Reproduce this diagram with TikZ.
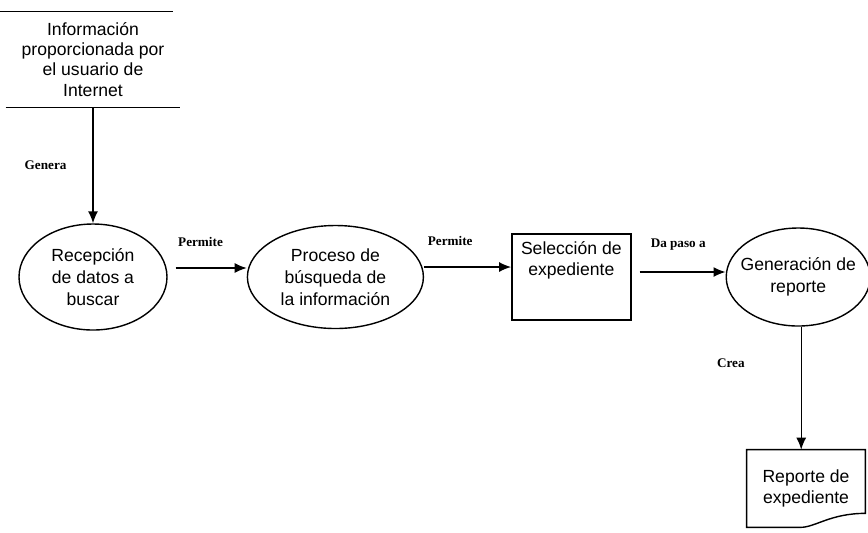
\documentclass[tikz,border=0pt]{standalone}
\usepackage{fontspec}
\setmainfont{Liberation Sans}
\newfontfamily\lblfont{Liberation Serif}
\usepackage{tikz}
\usetikzlibrary{shapes.geometric}
\usetikzlibrary{arrows.meta}
\usetikzlibrary{positioning}

\begin{document}
\begin{tikzpicture}
    \tikzset{ prc/.style={draw=black, ellipse, line width=0.8pt, inner xsep=-0.25cm, inner ysep=-0.1cm, text=black, font=\fontsize{10}{12.5}\selectfont} }
    \tikzset{ sel/.style={draw=black, rectangle, line width=0.8pt, text=black, font=\fontsize{10}{12.5}\selectfont} }
    \tikzset{ sto/.style={rectangle, text=black, font=\fontsize{10}{11.5}\selectfont, minimum width=3.48cm, minimum height=1.9cm} }
    \tikzset{ lbl/.style={text=black, font=\lblfont\bfseries\fontsize{7.5}{9}\selectfont} }
    \useasboundingbox (0,0) rectangle (17.36,-10.64);

    \node[sto,                     align=center] (s1)  at (1.86, -1.19)  {Información\\proporcionada por\\el usuario de\\Internet};
    \node[prc, minimum width=2.96cm, minimum height=2.12cm, align=center] (p1) at (1.86, -5.54) {Recepción\\de datos a\\buscar};
    \node[prc, minimum width=3.52cm, minimum height=2.06cm, right=1.58cm of p1, align=center] (p2) {Proceso de\\búsqueda de\\la información};
    \node[sel, minimum width=2.38cm, minimum height=1.72cm, right=1.74cm of p2, align=center] (p3) {Selección de\\expediente\\[0.3cm]};
    \node[prc, minimum width=2.88cm, minimum height=1.96cm, right=1.88cm of p3, align=center] (p4) {Generación de\\reporte};
    \node[sto, minimum width=2.36cm, minimum height=1.54cm, align=center] (d1) at (16.12, -9.77) {Reporte de\\expediente};

    % data store lines and report outline
    \draw[line width=0.8pt] ([xshift=-0.14cm]s1.north west) -- ([xshift=-0.14cm]s1.north east);
    \draw[line width=0.8pt] (s1.south west) -- (s1.south east);
    \draw[line width=0.8pt] (d1.north west) -- (d1.north east) -- ([yshift=0.28cm]d1.south east)
        .. controls ([xshift=-0.7cm, yshift=0.28cm]d1.south east) and ([xshift=-1.0cm]d1.south east) .. ([xshift=-1.3cm]d1.south east)
        -- (d1.south west) -- cycle;

    \draw[->,>={Latex[length=2.4mm,width=2mm]}, line width=0.8pt] (s1.south) -- (p1.north) node [midway, left=0.4cm, lbl] {Genera};
    \draw[->,>={Latex[length=2.4mm,width=2mm]}, line width=0.8pt] ([xshift=0.16cm, yshift=0.18cm]p1.east) -- ([yshift=0.18cm]p2.west) node [pos=0.35, above=0.3cm, lbl] {Permite};
    \draw[->,>={Latex[length=2.4mm,width=2mm]}, line width=0.8pt] ([yshift=0.2cm]p2.east) -- ([yshift=0.2cm]p3.west) node [pos=0.3, above=0.3cm, lbl] {Permite};
    \draw[->,>={Latex[length=2.4mm,width=2mm]}, line width=0.8pt] ([xshift=0.16cm, yshift=0.1cm]p3.east) -- ([yshift=0.1cm]p4.west) node [pos=0.45, above=0.3cm, lbl] {Da paso a};
    \draw[->,>={Latex[length=2.4mm,width=2mm]}, line width=0.8pt] ([xshift=0.06cm]p4.south) -- ([xshift=0.06cm]p4.south |- d1.north) node [pos=0.3, left=1.0cm, lbl] {Crea};
\end{tikzpicture}
\end{document}
